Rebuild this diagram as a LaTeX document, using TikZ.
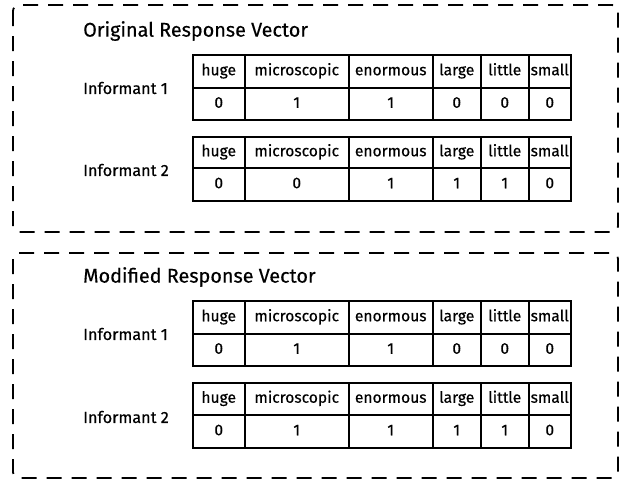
\documentclass[tikz,border=0pt]{standalone}
\usepackage{fontspec}
\setmainfont{Fira Sans}[FakeBold=0.4,AutoFakeBold=0.4]
\begin{document}
\begin{tikzpicture}[x=1pt,y=-1pt,
  frame/.style={draw, line width=1.8pt, dash pattern=on 15pt off 10pt, rounded corners=6pt},
  cell/.style={draw, line width=1.5pt, inner sep=0pt, anchor=north west, text height=11pt, text depth=3pt, font=\fontsize{15.6}{15.6}\selectfont\bfseries},
  title/.style={anchor=west, inner sep=0pt, font=\fontsize{19.8}{19.8}\selectfont\bfseries},
  lab/.style={anchor=west, inner sep=0pt, font=\fontsize{16.2}{16.2}\selectfont\bfseries}]
\useasboundingbox (0,0) rectangle (622,483);
\path[frame] (13,5) rectangle (618,232);
\path[frame] (13,253) rectangle (618,478);
\node[title] (t1) at (83,31) {Original Response Vector};
\node[title] (t2) at (83,277) {Modified Response Vector};
\node[lab] (i1a) at (83,88) {Informant 1};
\node[lab] (i2a) at (83,170) {Informant 2};
\node[lab] (i1b) at (83,334) {Informant 1};
\node[lab] (i2b) at (83,417) {Informant 2};
% tables: name/top/mid/bottom/values
\foreach \tn/\ty/\my/\by/\vals in {
  ta/54/87/119/{0,1,1,0,0,0},
  tb/136/167/200/{0,0,1,1,1,0},
  tc/300/333/365/{0,1,1,0,0,0},
  td/382/414/447/{0,1,1,1,1,0}}{
  \foreach \xa/\xb/\w [count=\i] in {192/244/huge,244/348/microscopic,348/432/enormous,432/480/large,480/528/little,528/570/small}{
    \node[cell, minimum width={\xb-\xa}, minimum height={\my-\ty}] (\tn h\i) at (\xa,\ty) {\w};
  }
  \foreach \v [count=\i] in \vals {
    \pgfmathsetmacro\xa{{192,244,348,432,480,528}[\i-1]}
    \pgfmathsetmacro\xb{{244,348,432,480,528,570}[\i-1]}
    \node[cell, minimum width={\xb-\xa}, minimum height={\by-\my}] (\tn v\i) at (\xa,\my) {\v};
  }
}
\end{tikzpicture}
\end{document}
